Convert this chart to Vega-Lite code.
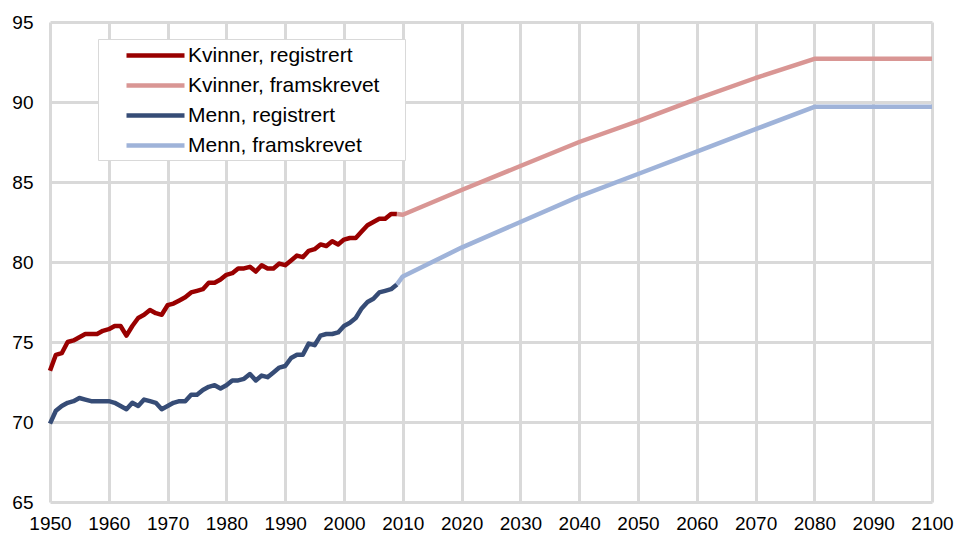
{
  "$schema": "https://vega.github.io/schema/vega-lite/v6.json",
  "width": 882,
  "height": 480,
  "autosize": "none",
  "padding": {"left": 50, "top": 22, "right": 25, "bottom": 36},
  "background": "white",
  "config": {
    "view": {"stroke": null},
    "font": "Liberation Sans"
  },
  "data": {
    "values": [
      {"year": 1950, "value": 73.2, "series": "Kvinner, registrert"},
      {"year": 1951, "value": 74.2, "series": "Kvinner, registrert"},
      {"year": 1952, "value": 74.3, "series": "Kvinner, registrert"},
      {"year": 1953, "value": 75.0, "series": "Kvinner, registrert"},
      {"year": 1954, "value": 75.1, "series": "Kvinner, registrert"},
      {"year": 1955, "value": 75.3, "series": "Kvinner, registrert"},
      {"year": 1956, "value": 75.5, "series": "Kvinner, registrert"},
      {"year": 1957, "value": 75.5, "series": "Kvinner, registrert"},
      {"year": 1958, "value": 75.5, "series": "Kvinner, registrert"},
      {"year": 1959, "value": 75.7, "series": "Kvinner, registrert"},
      {"year": 1960, "value": 75.8, "series": "Kvinner, registrert"},
      {"year": 1961, "value": 76.0, "series": "Kvinner, registrert"},
      {"year": 1962, "value": 76.0, "series": "Kvinner, registrert"},
      {"year": 1963, "value": 75.4, "series": "Kvinner, registrert"},
      {"year": 1964, "value": 76.0, "series": "Kvinner, registrert"},
      {"year": 1965, "value": 76.5, "series": "Kvinner, registrert"},
      {"year": 1966, "value": 76.7, "series": "Kvinner, registrert"},
      {"year": 1967, "value": 77.0, "series": "Kvinner, registrert"},
      {"year": 1968, "value": 76.8, "series": "Kvinner, registrert"},
      {"year": 1969, "value": 76.7, "series": "Kvinner, registrert"},
      {"year": 1970, "value": 77.3, "series": "Kvinner, registrert"},
      {"year": 1971, "value": 77.4, "series": "Kvinner, registrert"},
      {"year": 1972, "value": 77.6, "series": "Kvinner, registrert"},
      {"year": 1973, "value": 77.8, "series": "Kvinner, registrert"},
      {"year": 1974, "value": 78.1, "series": "Kvinner, registrert"},
      {"year": 1975, "value": 78.2, "series": "Kvinner, registrert"},
      {"year": 1976, "value": 78.3, "series": "Kvinner, registrert"},
      {"year": 1977, "value": 78.7, "series": "Kvinner, registrert"},
      {"year": 1978, "value": 78.7, "series": "Kvinner, registrert"},
      {"year": 1979, "value": 78.9, "series": "Kvinner, registrert"},
      {"year": 1980, "value": 79.2, "series": "Kvinner, registrert"},
      {"year": 1981, "value": 79.3, "series": "Kvinner, registrert"},
      {"year": 1982, "value": 79.6, "series": "Kvinner, registrert"},
      {"year": 1983, "value": 79.6, "series": "Kvinner, registrert"},
      {"year": 1984, "value": 79.7, "series": "Kvinner, registrert"},
      {"year": 1985, "value": 79.4, "series": "Kvinner, registrert"},
      {"year": 1986, "value": 79.8, "series": "Kvinner, registrert"},
      {"year": 1987, "value": 79.6, "series": "Kvinner, registrert"},
      {"year": 1988, "value": 79.6, "series": "Kvinner, registrert"},
      {"year": 1989, "value": 79.9, "series": "Kvinner, registrert"},
      {"year": 1990, "value": 79.8, "series": "Kvinner, registrert"},
      {"year": 1991, "value": 80.1, "series": "Kvinner, registrert"},
      {"year": 1992, "value": 80.4, "series": "Kvinner, registrert"},
      {"year": 1993, "value": 80.3, "series": "Kvinner, registrert"},
      {"year": 1994, "value": 80.7, "series": "Kvinner, registrert"},
      {"year": 1995, "value": 80.8, "series": "Kvinner, registrert"},
      {"year": 1996, "value": 81.1, "series": "Kvinner, registrert"},
      {"year": 1997, "value": 81.0, "series": "Kvinner, registrert"},
      {"year": 1998, "value": 81.3, "series": "Kvinner, registrert"},
      {"year": 1999, "value": 81.1, "series": "Kvinner, registrert"},
      {"year": 2000, "value": 81.4, "series": "Kvinner, registrert"},
      {"year": 2001, "value": 81.5, "series": "Kvinner, registrert"},
      {"year": 2002, "value": 81.5, "series": "Kvinner, registrert"},
      {"year": 2003, "value": 81.9, "series": "Kvinner, registrert"},
      {"year": 2004, "value": 82.3, "series": "Kvinner, registrert"},
      {"year": 2005, "value": 82.5, "series": "Kvinner, registrert"},
      {"year": 2006, "value": 82.7, "series": "Kvinner, registrert"},
      {"year": 2007, "value": 82.7, "series": "Kvinner, registrert"},
      {"year": 2008, "value": 83.0, "series": "Kvinner, registrert"},
      {"year": 2009, "value": 83.0, "series": "Kvinner, registrert"},

      {"year": 2009, "value": 83.0, "series": "Kvinner, framskrevet"},
      {"year": 2010, "value": 82.95, "series": "Kvinner, framskrevet"},
      {"year": 2020, "value": 84.5, "series": "Kvinner, framskrevet"},
      {"year": 2030, "value": 86.0, "series": "Kvinner, framskrevet"},
      {"year": 2040, "value": 87.5, "series": "Kvinner, framskrevet"},
      {"year": 2050, "value": 88.8, "series": "Kvinner, framskrevet"},
      {"year": 2060, "value": 90.2, "series": "Kvinner, framskrevet"},
      {"year": 2070, "value": 91.5, "series": "Kvinner, framskrevet"},
      {"year": 2080, "value": 92.7, "series": "Kvinner, framskrevet"},
      {"year": 2090, "value": 92.7, "series": "Kvinner, framskrevet"},
      {"year": 2100, "value": 92.7, "series": "Kvinner, framskrevet"},

      {"year": 1950, "value": 69.9, "series": "Menn, registrert"},
      {"year": 1951, "value": 70.7, "series": "Menn, registrert"},
      {"year": 1952, "value": 71.0, "series": "Menn, registrert"},
      {"year": 1953, "value": 71.2, "series": "Menn, registrert"},
      {"year": 1954, "value": 71.3, "series": "Menn, registrert"},
      {"year": 1955, "value": 71.5, "series": "Menn, registrert"},
      {"year": 1956, "value": 71.4, "series": "Menn, registrert"},
      {"year": 1957, "value": 71.3, "series": "Menn, registrert"},
      {"year": 1958, "value": 71.3, "series": "Menn, registrert"},
      {"year": 1959, "value": 71.3, "series": "Menn, registrert"},
      {"year": 1960, "value": 71.3, "series": "Menn, registrert"},
      {"year": 1961, "value": 71.2, "series": "Menn, registrert"},
      {"year": 1962, "value": 71.0, "series": "Menn, registrert"},
      {"year": 1963, "value": 70.8, "series": "Menn, registrert"},
      {"year": 1964, "value": 71.2, "series": "Menn, registrert"},
      {"year": 1965, "value": 71.0, "series": "Menn, registrert"},
      {"year": 1966, "value": 71.4, "series": "Menn, registrert"},
      {"year": 1967, "value": 71.3, "series": "Menn, registrert"},
      {"year": 1968, "value": 71.2, "series": "Menn, registrert"},
      {"year": 1969, "value": 70.8, "series": "Menn, registrert"},
      {"year": 1970, "value": 71.0, "series": "Menn, registrert"},
      {"year": 1971, "value": 71.2, "series": "Menn, registrert"},
      {"year": 1972, "value": 71.3, "series": "Menn, registrert"},
      {"year": 1973, "value": 71.3, "series": "Menn, registrert"},
      {"year": 1974, "value": 71.7, "series": "Menn, registrert"},
      {"year": 1975, "value": 71.7, "series": "Menn, registrert"},
      {"year": 1976, "value": 72.0, "series": "Menn, registrert"},
      {"year": 1977, "value": 72.2, "series": "Menn, registrert"},
      {"year": 1978, "value": 72.3, "series": "Menn, registrert"},
      {"year": 1979, "value": 72.1, "series": "Menn, registrert"},
      {"year": 1980, "value": 72.3, "series": "Menn, registrert"},
      {"year": 1981, "value": 72.6, "series": "Menn, registrert"},
      {"year": 1982, "value": 72.6, "series": "Menn, registrert"},
      {"year": 1983, "value": 72.7, "series": "Menn, registrert"},
      {"year": 1984, "value": 73.0, "series": "Menn, registrert"},
      {"year": 1985, "value": 72.6, "series": "Menn, registrert"},
      {"year": 1986, "value": 72.9, "series": "Menn, registrert"},
      {"year": 1987, "value": 72.8, "series": "Menn, registrert"},
      {"year": 1988, "value": 73.1, "series": "Menn, registrert"},
      {"year": 1989, "value": 73.4, "series": "Menn, registrert"},
      {"year": 1990, "value": 73.5, "series": "Menn, registrert"},
      {"year": 1991, "value": 74.0, "series": "Menn, registrert"},
      {"year": 1992, "value": 74.2, "series": "Menn, registrert"},
      {"year": 1993, "value": 74.2, "series": "Menn, registrert"},
      {"year": 1994, "value": 74.9, "series": "Menn, registrert"},
      {"year": 1995, "value": 74.8, "series": "Menn, registrert"},
      {"year": 1996, "value": 75.4, "series": "Menn, registrert"},
      {"year": 1997, "value": 75.5, "series": "Menn, registrert"},
      {"year": 1998, "value": 75.5, "series": "Menn, registrert"},
      {"year": 1999, "value": 75.6, "series": "Menn, registrert"},
      {"year": 2000, "value": 76.0, "series": "Menn, registrert"},
      {"year": 2001, "value": 76.2, "series": "Menn, registrert"},
      {"year": 2002, "value": 76.5, "series": "Menn, registrert"},
      {"year": 2003, "value": 77.1, "series": "Menn, registrert"},
      {"year": 2004, "value": 77.5, "series": "Menn, registrert"},
      {"year": 2005, "value": 77.7, "series": "Menn, registrert"},
      {"year": 2006, "value": 78.1, "series": "Menn, registrert"},
      {"year": 2007, "value": 78.2, "series": "Menn, registrert"},
      {"year": 2008, "value": 78.3, "series": "Menn, registrert"},
      {"year": 2009, "value": 78.6, "series": "Menn, registrert"},

      {"year": 2009, "value": 78.6, "series": "Menn, framskrevet"},
      {"year": 2010, "value": 79.1, "series": "Menn, framskrevet"},
      {"year": 2020, "value": 80.9, "series": "Menn, framskrevet"},
      {"year": 2030, "value": 82.5, "series": "Menn, framskrevet"},
      {"year": 2040, "value": 84.1, "series": "Menn, framskrevet"},
      {"year": 2050, "value": 85.5, "series": "Menn, framskrevet"},
      {"year": 2060, "value": 86.9, "series": "Menn, framskrevet"},
      {"year": 2070, "value": 88.3, "series": "Menn, framskrevet"},
      {"year": 2080, "value": 89.7, "series": "Menn, framskrevet"},
      {"year": 2090, "value": 89.7, "series": "Menn, framskrevet"},
      {"year": 2100, "value": 89.7, "series": "Menn, framskrevet"}
    ]
  },
  "mark": {"type": "line", "strokeWidth": 4.5, "strokeJoin": "round", "strokeCap": "butt", "clip": false},
  "encoding": {
    "x": {
      "field": "year",
      "type": "quantitative",
      "scale": {"domain": [1950, 2100], "nice": false, "zero": false},
      "axis": {
        "title": null,
        "values": [1950, 1960, 1970, 1980, 1990, 2000, 2010, 2020, 2030, 2040, 2050, 2060, 2070, 2080, 2090, 2100],
        "format": "d",
        "domain": false,
        "ticks": false,
        "grid": true,
        "gridColor": "#d9d9d9",
        "gridWidth": 3,
        "gridOpacity": 1,
        "labelFont": "Liberation Sans",
        "labelFontSize": 19,
        "labelColor": "#000000",
        "labelPadding": 12,
        "labelFlush": false,
        "labelOverlap": false
      }
    },
    "y": {
      "field": "value",
      "type": "quantitative",
      "scale": {"domain": [65, 95], "nice": false, "zero": false},
      "axis": {
        "title": null,
        "values": [65, 70, 75, 80, 85, 90, 95],
        "domain": false,
        "ticks": false,
        "grid": true,
        "gridColor": "#d9d9d9",
        "gridWidth": 3,
        "gridOpacity": 1,
        "labelFont": "Liberation Sans",
        "labelFontSize": 19,
        "labelColor": "#000000",
        "labelPadding": 17,
        "labelFlush": false,
        "labelOverlap": false
      }
    },
    "color": {
      "field": "series",
      "type": "nominal",
      "sort": ["Kvinner, registrert", "Kvinner, framskrevet", "Menn, registrert", "Menn, framskrevet"],
      "scale": {
        "domain": ["Kvinner, registrert", "Kvinner, framskrevet", "Menn, registrert", "Menn, framskrevet"],
        "range": ["#990000", "#d99694", "#364c76", "#9fb3d9"]
      },
      "legend": {
        "title": null,
        "orient": "none",
        "legendX": 48,
        "legendY": 17,
        "symbolType": "M-1,0M27.7,0M1.2,0H7",
        "symbolSize": 400,
        "symbolStrokeWidth": 4.5,
        "labelFont": "Liberation Sans",
        "labelFontSize": 21,
        "labelColor": "#000000",
        "labelOffset": 61,
        "rowPadding": 7,
        "padding": 4,
        "fillColor": "white",
        "strokeColor": "#d9d9d9",
        "labelLimit": 400
      }
    }
  }
}
